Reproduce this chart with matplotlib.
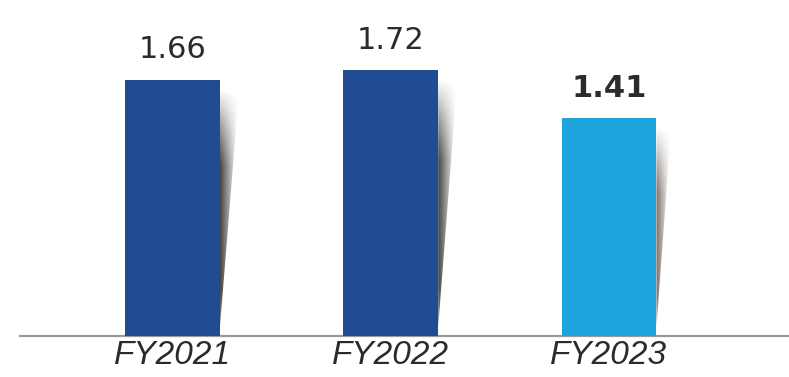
import numpy as np
import matplotlib
matplotlib.use("Agg")
import matplotlib.pyplot as plt
from matplotlib.patches import Polygon

# Data
years = ["FY2021", "FY2022", "FY2023"]
values = [1.66, 1.72, 1.41]
bar_colors = ["#1f4c93", "#1f4c93", "#1ea3dc"]
label_weights = ["normal", "normal", "bold"]
shadow_colors = [(0.22, 0.22, 0.22), (0.22, 0.22, 0.22), (0.45, 0.40, 0.38)]
shadow_widths = [0.085, 0.085, 0.065]

W, H, DPI = 789, 377, 100
fig = plt.figure(figsize=(W / DPI, H / DPI), dpi=DPI)
fig.patch.set_facecolor("white")

# Axes placed in pixel terms: left edge at 20px, baseline 41px above bottom
ax = fig.add_axes([20 / W, 41 / H, (W - 20) / W, (H - 41) / H])
ax.set_xlim(-0.699, 2.825)
ax.set_ylim(0, 2.176)

x = np.arange(len(years))
bar_w = 0.435
bars = ax.bar(x, values, width=bar_w, color=bar_colors, zorder=3)

# Soft wedge-shaped shadow to the right of each bar
for rect, col, sw in zip(bars, shadow_colors, shadow_widths):
    xr = rect.get_x() + rect.get_width()
    top = rect.get_height()
    y0 = 0.06
    y1 = top - 0.06
    verts = [(xr, y1), (xr + sw, y1 - 0.05), (xr, y0)]
    poly = Polygon(verts, closed=True, facecolor="none", edgecolor="none")
    ax.add_patch(poly)
    nx, ny = 60, 200
    gx = np.linspace(0, 1, nx)
    gy = np.linspace(0, 1, ny)
    GX, GY = np.meshgrid(gx, gy)
    alpha = (1 - GX) ** 1.1 * np.clip(np.sin(np.pi * (0.15 + 0.85 * GY)) * 1.3, 0, 1) * 0.95
    img = np.zeros((ny, nx, 4))
    img[..., 0], img[..., 1], img[..., 2] = col
    img[..., 3] = alpha
    im = ax.imshow(img, extent=(xr, xr + sw, y0, y1), origin="lower",
                   aspect="auto", interpolation="bilinear", zorder=2)
    im.set_clip_path(poly)

# Value labels above bars
for xi, v, wt in zip(x, values, label_weights):
    ax.annotate(f"{v:.2f}", (xi, v), xytext=(0, 11), textcoords="offset points",
                ha="center", va="bottom", fontsize=22, fontweight=wt,
                color="#2b2b2b", family="DejaVu Sans")

# Baseline and category labels
for s in ["top", "right", "left"]:
    ax.spines[s].set_visible(False)
ax.spines["bottom"].set_color("#9a9a9a")
ax.spines["bottom"].set_linewidth(1.6)
ax.set_yticks([])
ax.set_xticks(x)
ax.set_xticklabels(years, fontsize=24, style="italic", color="#2b2b2b",
                   family=["Liberation Sans Narrow", "Liberation Sans", "DejaVu Sans"])
ax.tick_params(axis="x", length=0, pad=3)
ax.set_facecolor("none")

fig.savefig("out.png", dpi=DPI, facecolor="white")
